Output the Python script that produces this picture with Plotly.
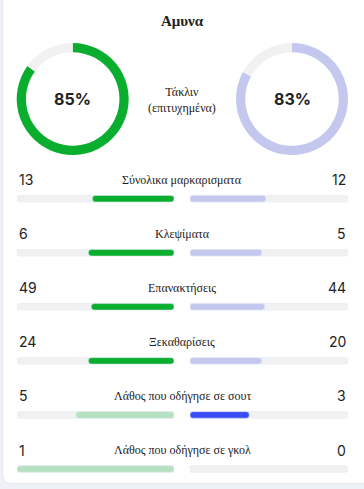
import plotly.graph_objects as go

W, H = 364, 489

title = "Αμυνα"
donut_label = "Τάκλιν<br>(επιτυχημένα)"
donut_home = 85
donut_away = 83

categories = ["Σύνολικα μαρκαρισματα", "Κλεψίματα", "Επανακτήσεις", "Ξεκαθαρίσεις",
              "Λάθος που οδήγησε σε σουτ", "Λάθος που οδήγησε σε γκολ"]
home_values = [13, 6, 49, 24, 5, 1]
away_values = [12, 5, 44, 20, 3, 0]

GREEN = "#0AAE2E"
LAV = "#C4C8EE"
LGREEN = "#B6E1C1"
BLUE = "#3A4CF4"
TRACK = "#F1F1F1"
TXT = "#222222"
left_colors = [GREEN, GREEN, GREEN, GREEN, LGREEN, LGREEN]
right_colors = [LAV, LAV, LAV, LAV, BLUE, LAV]

def px_x(p):
    return p / W

def px_y(p):
    return 1 - p / H

home_share = [h / (h + a) if (h + a) else 0 for h, a in zip(home_values, away_values)]
away_share = [a / (h + a) if (h + a) else 0 for h, a in zip(home_values, away_values)]
rows = list(range(len(categories)))

fig = go.Figure()

# donuts
for val, col, cx in [(donut_home, GREEN, 72.7), (donut_away, LAV, 292.0)]:
    r = 56
    fig.add_trace(go.Pie(
        values=[val, 100 - val], marker=dict(colors=[col, TRACK], line=dict(width=0)),
        hole=0.835, sort=False, direction="clockwise", rotation=0,
        textinfo="none", hoverinfo="skip", showlegend=False,
        domain=dict(x=[px_x(cx - r), px_x(cx + r)], y=[px_y(99 + r), px_y(99 - r)]),
    ))
    fig.add_annotation(x=px_x(cx), y=px_y(99.5), xref="paper", yref="paper",
                       xanchor="center", yanchor="middle",
                       text=f"<b>{val}%</b>", showarrow=False,
                       font=dict(family="Inter", size=16, color=TXT))

bw = 0.12
cr = 3
# tracks (rounded both ends via two overlays)
for xa in ["x", "x2"]:
    fig.add_trace(go.Bar(y=rows, x=[1] * len(rows), orientation="h", width=bw,
                         marker=dict(color=TRACK, cornerradius=cr), xaxis=xa, yaxis="y",
                         hoverinfo="skip", showlegend=False))
    fig.add_trace(go.Bar(y=rows, x=[-1] * len(rows), base=[1] * len(rows), orientation="h", width=bw,
                         marker=dict(color=TRACK, cornerradius=cr), xaxis=xa, yaxis="y",
                         hoverinfo="skip", showlegend=False))
# fills: drawn from share back to 0 so the rounded end sits at the centre side
fig.add_trace(go.Bar(y=rows, x=[-s for s in home_share], base=home_share, orientation="h", width=bw,
                     marker=dict(color=left_colors, cornerradius=cr), xaxis="x", yaxis="y",
                     hoverinfo="skip", showlegend=False))
fig.add_trace(go.Bar(y=rows, x=[-s for s in away_share], base=away_share, orientation="h", width=bw,
                     marker=dict(color=right_colors, cornerradius=cr), xaxis="x2", yaxis="y",
                     hoverinfo="skip", showlegend=False))

for i, (c, h, a) in enumerate(zip(categories, home_values, away_values)):
    fig.add_annotation(x=1, y=i, xref="x", yref="y", yshift=19, text=str(h), showarrow=False,
                       xanchor="left", yanchor="middle", font=dict(family="Inter", size=14, color=TXT))
    fig.add_annotation(x=1, y=i, xref="x2", yref="y", yshift=19, text=str(a), showarrow=False,
                       xanchor="right", yanchor="middle", font=dict(family="Inter", size=14, color=TXT))
    fig.add_annotation(x=0.5, y=i, xref="paper", yref="y", yshift=19, text=c, showarrow=False,
                       xanchor="center", yanchor="middle",
                       font=dict(family="Liberation Serif", size=12, color=TXT))

fig.add_annotation(x=0.5, y=px_y(21), xref="paper", yref="paper", text=f"<b>{title}</b>",
                   xanchor="center", yanchor="middle",
                   showarrow=False, font=dict(family="Liberation Serif", size=15, color=TXT))
fig.add_annotation(x=px_x(182), y=px_y(100), xref="paper", yref="paper", text=donut_label,
                   xanchor="center", yanchor="middle",
                   showarrow=False, font=dict(family="Liberation Serif", size=12, color=TXT))

# card background
L, B, R = 2.5, 483.5, 10
path = (f"M {px_x(L)},{px_y(-20)} L {px_x(L)},{px_y(B - R)} "
        f"Q {px_x(L)},{px_y(B)} {px_x(L + R)},{px_y(B)} L {px_x(W + 20)},{px_y(B)} "
        f"L {px_x(W + 20)},{px_y(-20)} Z")
fig.add_shape(type="path", path=path, xref="paper", yref="paper",
              fillcolor="white", line=dict(color="#E6E9EF", width=1), layer="below")

y0 = 198.7
step = 54.06
fig.update_layout(
    width=W, height=H, margin=dict(l=0, r=0, t=0, b=0),
    paper_bgcolor="#EEF1F6", plot_bgcolor="rgba(0,0,0,0)",
    barmode="overlay",
    xaxis=dict(domain=[px_x(17), px_x(174)], range=[1, 0], visible=False, fixedrange=True),
    xaxis2=dict(domain=[px_x(190), px_x(348)], range=[0, 1], visible=False, fixedrange=True),
    yaxis=dict(domain=[0, 1], range=[(H - y0) / step, -y0 / step], visible=False, fixedrange=True),
    showlegend=False,
)

fig.write_html("out.html", config={"displayModeBar": False},
               post_script="document.body.style.margin='0';document.body.style.overflow='hidden';")
